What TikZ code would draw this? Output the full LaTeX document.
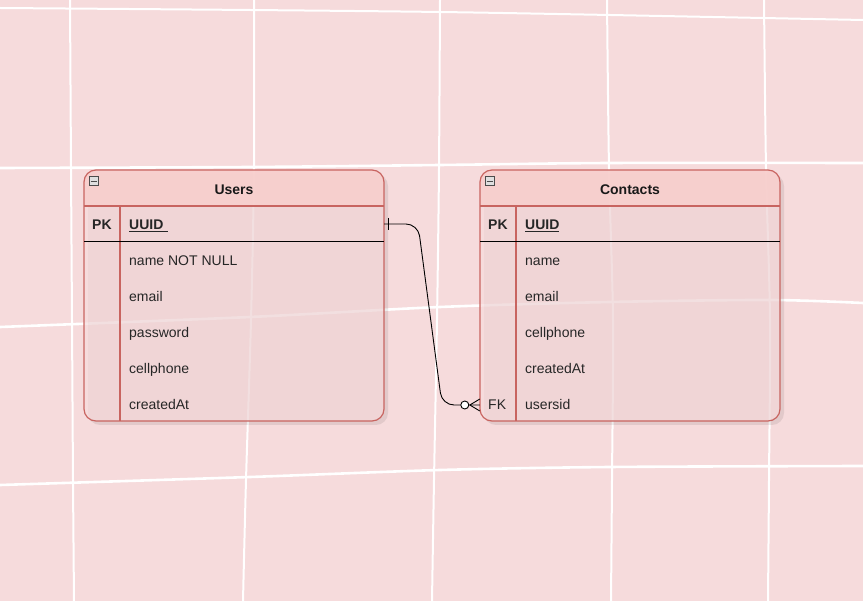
\documentclass[tikz,border=0pt]{standalone}
\usepackage{fontspec}
\setmainfont{Liberation Sans}
\usetikzlibrary{positioning, calc}
\definecolor{paper}{RGB}{246,219,220}
\definecolor{head}{RGB}{248,206,204}
\definecolor{rim}{RGB}{200,100,96}

\tikzset{
  field/.style={anchor=west, inner sep=0pt, text height=10.5pt, text depth=2.5pt, text=black!85, font=\fontsize{14}{16}\selectfont},
  key/.style={field, font=\fontsize{14}{16}\selectfont\bfseries},
  title/.style={inner sep=0pt, text=black!90, font=\fontsize{14}{16}\selectfont\bfseries},
  row/.style={minimum width=300pt, minimum height=36pt, inner sep=0pt},
  gridline/.style={white, line width=2pt, line cap=round},
  link/.style={black, line width=0.9pt},
}

\begin{document}
\begin{tikzpicture}[x=1pt, y=-1pt]
\pgfmathsetmacro{\boxW}{300}
\pgfmathsetmacro{\rowH}{36}

\fill[paper] (0,0) rectangle (863,601);
\useasboundingbox (0,0) rectangle (863,601);

% hand drawn grid behind
\draw[gridline] plot[smooth] coordinates {(0,8) (250,10) (440,12) (610,15) (863,20)};
\draw[gridline, line width=2.6pt] plot[smooth] coordinates {(0,168) (250,167) (440,165) (610,163) (863,163)};
\draw[gridline, line width=2.6pt] plot[smooth] coordinates {(0,327) (250,317) (440,307) (610,302) (770,300) (863,303)};
\draw[gridline, line width=2.6pt] plot[smooth] coordinates {(0,485) (250,477) (440,470) (610,467) (863,466)};
\draw[gridline] plot[smooth] coordinates {(70,0) (71,168) (72,320) (73,480) (74,601)};
\draw[gridline] plot[smooth] coordinates {(254,0) (254,168) (251,320) (246,480) (243,601)};
\draw[gridline] plot[smooth] coordinates {(440,0) (439,168) (437,320) (434,480) (432,601)};
\draw[gridline] plot[smooth] coordinates {(607,0) (609,168) (613,320) (612,480) (611,601)};
\draw[gridline] plot[smooth] coordinates {(764,0) (766,168) (770,320) (769,480) (768,601)};

% tables
\foreach \bx/\nm in {84/Users, 480/Contacts}{
  \fill[black, opacity=0.08, rounded corners=12pt] (\bx+4,174) rectangle (\bx+\boxW+4,425);
  \fill[paper, opacity=0.7, rounded corners=12pt] (\bx,170) rectangle (\bx+\boxW,421);
  \begin{scope}
    \clip[rounded corners=12pt] (\bx,170) rectangle (\bx+\boxW,421);
    \fill[head, opacity=0.85] (\bx,170) rectangle (\bx+\boxW,206);
  \end{scope}
  \draw[rim, line width=1.2pt, rounded corners=12pt] (\bx,170) rectangle (\bx+\boxW,421);
  \draw[rim, line width=1.2pt] (\bx,206) -- (\bx+\boxW,206);
  \draw[rim, line width=1.2pt] (\bx+36,206) -- (\bx+36,421);
  \draw[black] (\bx,241) -- (\bx+\boxW,241);
  \draw[gray!60!black, fill=gray!25] (\bx+5,176.5) rectangle (\bx+14,185.5);
  \draw[gray!60!black] (\bx+6.5,181) -- (\bx+12.5,181);
}

\node[title] (users) at (234,190) {Users};
\node[title] (contacts) at (630,190) {Contacts};

\node[row] (upk) at (234,224) {};
\node[row] (cfk) at (630,405) {};

\node[key] (upkl) at (92,226) {PK};
\node[key] (uuid) at (129,226) {\underline{UUID\,\,}};
\foreach \f [count=\i] in {name NOT NULL, email, password, cellphone, createdAt}
  \node[field] (u\i) at (129,226+\rowH*\i) {\f};

\node[key] (cpkl) at (488,226) {PK};
\node[key] (cuuid) at (525,226) {\underline{UUID}};
\foreach \f [count=\i] in {name, email, cellphone, createdAt, usersid}
  \node[field] (c\i) at (525,226+\rowH*\i) {\f};
\node[field] (cfkl) at (488,406) {FK};

% one to zero-or-many
\draw[link, rounded corners=12pt] (upk.east) -- (418,224) -- (442,405) -- (cfk.west);
\draw[link] ($(upk.east)+(4,-6)$) -- ++(0,12);
\draw[link] ($(cfk.west)+(-10,0)$) -- ($(cfk.west)+(0,-6)$);
\draw[link] ($(cfk.west)+(-10,0)$) -- ($(cfk.west)+(0,6)$);
\draw[link, fill=white] ($(cfk.west)+(-15,0)$) circle (4);
\end{tikzpicture}
\end{document}
